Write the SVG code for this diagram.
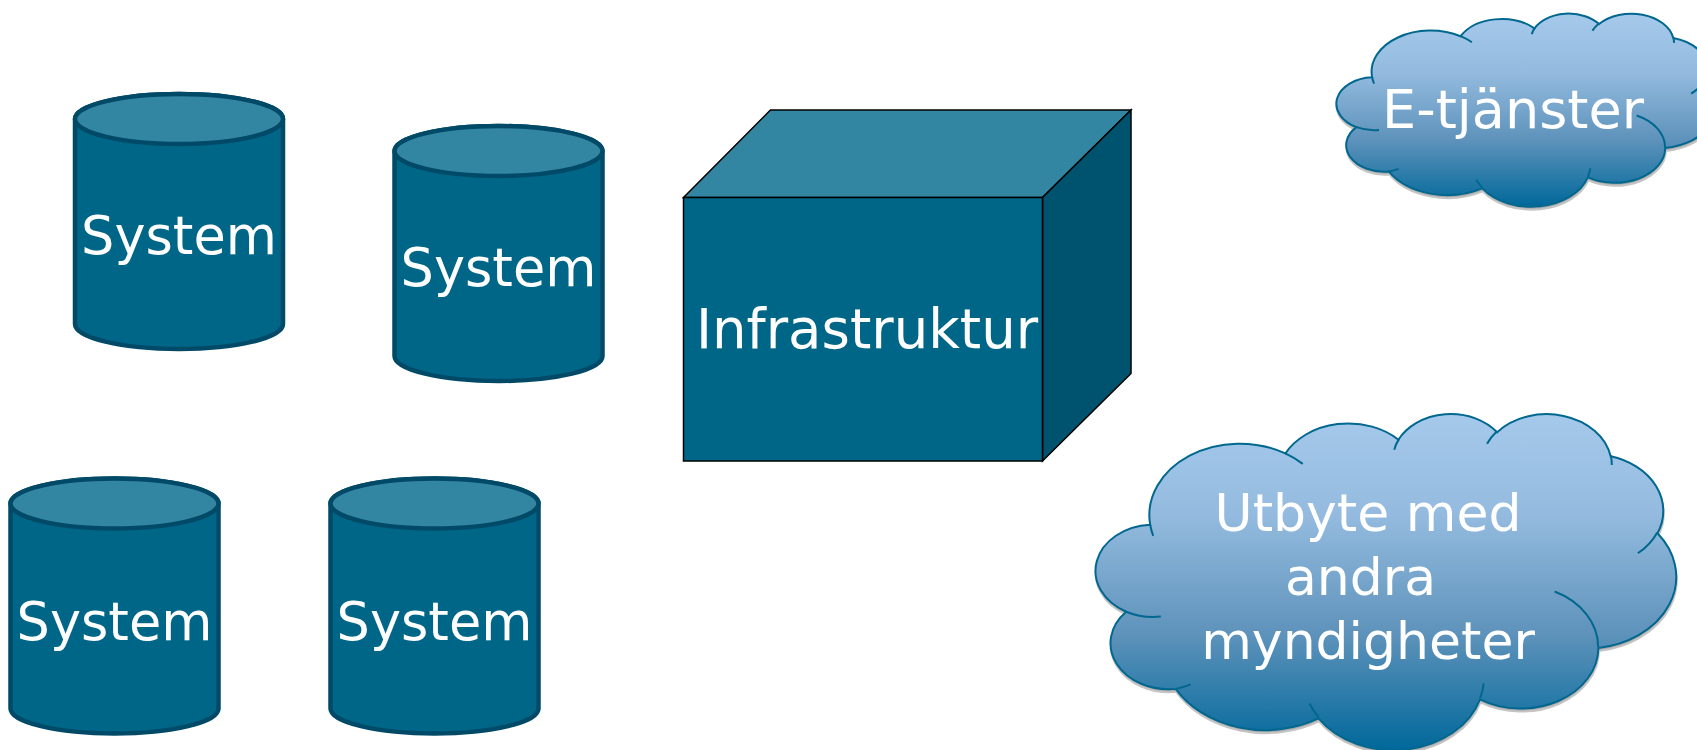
<svg xmlns="http://www.w3.org/2000/svg" xmlns:xlink="http://www.w3.org/1999/xlink" width="1697" height="750" viewBox="0 0 1697 750">
<style>
.lbl{font-family:"DejaVu Sans",Verdana,sans-serif;fill:#ffffff;text-anchor:middle}
.cylBody{fill:#006688;stroke:#004a68;stroke-width:4.5;stroke-linejoin:round}
.cylTop{fill:#3386a2;stroke:#004a68;stroke-width:4.5}
.box{stroke:#000000;stroke-width:1.5;stroke-linejoin:miter}
.cloudFill{fill:url(#cloudGrad);stroke:#00678f;stroke-width:2}
.cloudLine{fill:none;stroke:#00678f;stroke-width:2}
.cloudShadow{fill:#a9a9a9;stroke:#c4c4c4;stroke-width:2}
</style>
<defs>
<linearGradient id="cloudGrad" x1="0" y1="0" x2="0" y2="1">
<stop offset="0" stop-color="#a5c9eb"/>
<stop offset="0.3" stop-color="#94bbdf"/>
<stop offset="0.65" stop-color="#5f93bb"/>
<stop offset="1" stop-color="#00689a"/>
</linearGradient>
<path id="cylBodyShape" d="M-104,0 V205 A104,25 0 0 0 104,205 V0 A104,25 0 0 0 -104,0 Z"/>
<path id="cloudOuter" vector-effect="non-scaling-stroke" d="M3900,14370 A6753,9190 0 0 1 14005,5200 A5333,7267 0 0 1 22455,3429 A4365,5945 0 0 1 29832,2478 A4857,6595 0 0 1 38317,5572 A5333,7273 0 0 1 41817,15458 A6775,9220 0 0 1 37402,30200 A5785,7867 0 0 1 28553,36811 A6752,9215 0 0 1 16479,39264 A7720,10543 0 0 1 5802,35470 A4360,5918 0 0 1 2110,25549 A4345,5945 0 0 1 3900,14370 Z"/>
<path id="cloudInner" vector-effect="non-scaling-stroke" d="M4693,26177 A4345,5945 0 0 1 2110,25549 M6928,34899 A4360,5918 0 0 1 5802,35470 M16478,39090 A6752,9215 0 0 1 15809,37348 M28827,34751 A6752,9215 0 0 1 28560,36662 M34129,22954 A5785,7867 0 0 1 37380,30089 M41798,15354 A5333,7273 0 0 1 40351,18027 M38324,5426 A4857,6595 0 0 1 38400,6691 M29078,3952 A4857,6595 0 0 1 29820,2340 M22141,4720 A4365,5945 0 0 1 22500,3331 M14000,5192 A6753,9190 0 0 1 15303,6544 M4127,15789 A6753,9190 0 0 1 3900,14371"/>
</defs>

<g id="connectors"></g>

<g id="system1" transform="translate(179,119)">
<use xlink:href="#cylBodyShape" class="cylBody"/>
<ellipse class="cylTop" cx="0" cy="0" rx="104" ry="25"/>
<text class="lbl" x="0" y="135" font-size="52.5">System</text>
</g>

<g id="system2" transform="translate(498.5,151)">
<use xlink:href="#cylBodyShape" class="cylBody"/>
<ellipse class="cylTop" cx="0" cy="0" rx="104" ry="25"/>
<text class="lbl" x="0" y="135" font-size="52.5">System</text>
</g>

<g id="system3" transform="translate(114.5,503.5)">
<use xlink:href="#cylBodyShape" class="cylBody"/>
<ellipse class="cylTop" cx="0" cy="0" rx="104" ry="25"/>
<text class="lbl" x="0" y="136" font-size="52.5">System</text>
</g>

<g id="system4" transform="translate(434.5,503.5)">
<use xlink:href="#cylBodyShape" class="cylBody"/>
<ellipse class="cylTop" cx="0" cy="0" rx="104" ry="25"/>
<text class="lbl" x="0" y="136" font-size="52.5">System</text>
</g>

<g id="infrastruktur">
<polygon class="box" fill="#3386a2" points="683.5,197.5 770.5,110 1131,110 1042.5,197.5"/>
<polygon class="box" fill="#00536e" points="1042.5,197.5 1131,110 1131,373.5 1042.5,461"/>
<rect class="box" fill="#006688" x="683.5" y="197.5" width="359" height="263.5"/>
<text class="lbl" x="867" y="347.5" font-size="54.5">Infrastruktur</text>
</g>

<g id="etjanster">
<g transform="translate(1338.5,16) scale(0.00875,0.0044676)">
<use xlink:href="#cloudOuter" class="cloudShadow"/>
</g>
<g transform="translate(1338,13) scale(0.00875,0.0044676)">
<use xlink:href="#cloudOuter" class="cloudFill"/>
<use xlink:href="#cloudInner" class="cloudLine"/>
</g>
<text class="lbl" x="1513" y="128" font-size="54">E-tjänster</text>
</g>

<g id="utbyte">
<g transform="translate(1098.5,416) scale(0.0133796,0.0077778)">
<use xlink:href="#cloudOuter" class="cloudShadow"/>
</g>
<g transform="translate(1098,413) scale(0.0133796,0.0077778)">
<use xlink:href="#cloudOuter" class="cloudFill"/>
<use xlink:href="#cloudInner" class="cloudLine"/>
</g>
<text class="lbl" font-size="52"><tspan x="1368" y="531">Utbyte med</tspan><tspan x="1360.5" y="595">andra</tspan><tspan x="1368" y="659">myndigheter</tspan></text>
</g>
</svg>
